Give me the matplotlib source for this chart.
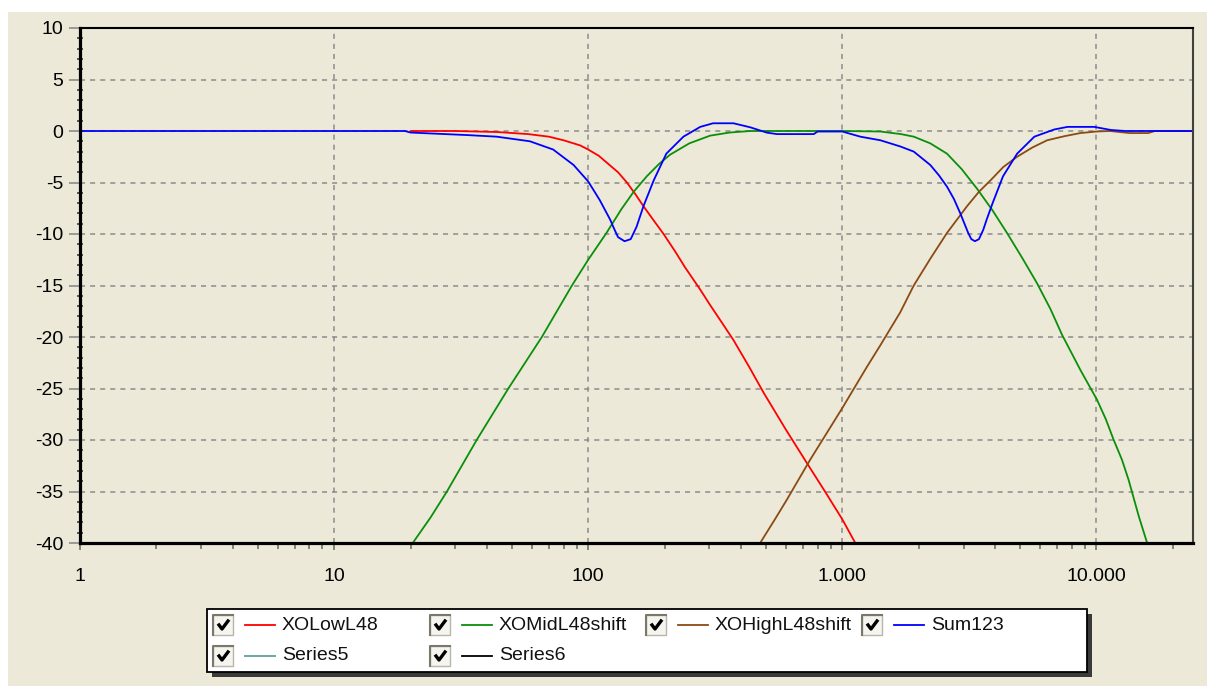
import matplotlib
matplotlib.use("Agg")
import matplotlib.pyplot as plt
from matplotlib.patches import Rectangle
from matplotlib.lines import Line2D
from matplotlib.ticker import FixedLocator, FuncFormatter, LogLocator, MultipleLocator

plt.rcParams['font.family'] = ['Liberation Sans', 'DejaVu Sans']
plt.rcParams['axes.unicode_minus'] = False

# --- data (frequency in Hz, level in dB) ---
low_f = [20, 30, 44, 58, 70, 80, 93, 100, 110, 120, 131, 142, 153, 165, 180, 198,
         220, 240, 276, 302, 340, 373, 430, 490, 600, 737, 860, 1000, 1125]
low_db = [0, 0, -0.1, -0.3, -0.55, -0.9, -1.4, -1.8, -2.4, -3.2, -4.0, -5.0, -6.1,
          -7.3, -8.6, -10.0, -11.7, -13.2, -15.4, -16.9, -18.8, -20.3, -22.9, -25.4,
          -29.0, -32.5, -35.1, -37.7, -40]

mid_f = [20, 24, 27.8, 36.4, 48.5, 65.7, 86.3, 100, 118, 135, 151, 170, 190, 210,
         250, 302, 360, 434, 600, 1000, 1412, 1700, 1911, 2220, 2582, 2950, 3390,
         3900, 4449, 5100, 5845, 6600, 7330, 8650, 10060, 10900, 11700, 12600, 13400,
         14680, 15840]
mid_db = [-40.3, -37.5, -35.0, -30.0, -25.0, -20.0, -15.0, -12.5, -9.9, -7.6, -5.9,
          -4.4, -3.2, -2.3, -1.2, -0.45, -0.15, 0, 0, 0, -0.05, -0.3, -0.55, -1.2,
          -2.2, -3.7, -5.6, -7.7, -9.9, -12.3, -14.8, -17.3, -19.8, -23.2, -26.1,
          -28.0, -30.0, -31.9, -33.9, -37.4, -40]

high_f = [475, 540, 605, 748, 870, 1000, 1250, 1412, 1691, 1911, 2220, 2582, 3097,
          3450, 3828, 4300, 4876, 5600, 6400, 7500, 8650, 10000, 11300, 13500, 16000,
          17000, 24000]
high_db = [-40, -37.8, -35.8, -31.9, -29.3, -26.9, -22.9, -20.8, -17.6, -15.0, -12.4,
           -9.9, -7.3, -5.9, -4.8, -3.5, -2.5, -1.6, -0.9, -0.5, -0.2, -0.05, 0, -0.2,
           -0.2, 0, 0]

sum_f = [1, 19, 20, 33.7, 43.6, 59, 72.8, 87.6, 100, 111, 122, 126, 131, 139, 147,
         155, 165, 181, 203, 237, 276, 310, 373, 434, 505, 553, 772, 800, 1000, 1178,
         1412, 1691, 1911, 2220, 2400, 2582, 2750, 2914, 3130, 3220, 3327, 3450, 3586,
         3700, 3905, 4290, 4876, 5700, 6830, 7700, 9800, 11400, 13000, 24000]
sum_db = [0, 0, -0.15, -0.4, -0.55, -1.0, -1.8, -3.3, -4.9, -6.7, -8.6, -9.4, -10.3,
          -10.7, -10.5, -9.3, -7.3, -4.8, -2.2, -0.55, 0.4, 0.75, 0.75, 0.36, -0.16,
          -0.3, -0.3, -0.05, -0.05, -0.55, -0.9, -1.5, -2.0, -3.3, -4.3, -5.4, -6.6,
          -8.0, -9.9, -10.5, -10.7, -10.5, -9.6, -8.6, -7.0, -4.4, -2.2, -0.55, 0.15,
          0.4, 0.4, 0.1, 0, 0]

series_names = ['XOLowL48', 'XOMidL48shift', 'XOHighL48shift', 'Sum123', 'Series5', 'Series6']
series_colors = ['#ff0000', '#0a8f0a', '#8b4a14', '#0000ff', '#5f9ea0', '#000000']

x_major = [1, 10, 100, 1000, 10000]
y_major = list(range(-40, 11, 5))

BG = '#ece9d8'
W, H = 1207, 686


def px(x, y):
    # pixel position -> figure fraction
    return x / W, 1 - y / H


fig = plt.figure(figsize=(W / 100, H / 100), dpi=100)
fig.patch.set_facecolor('white')
fig.add_artist(Rectangle(px(8, 686), (W - 8) / W, 674 / H, transform=fig.transFigure,
                         facecolor=BG, edgecolor='none', zorder=0))

ax = fig.add_axes([80 / W, 1 - 543 / H, (1193 - 80) / W, (543 - 28) / H])
ax.set_facecolor(BG)

curves = [(low_f, low_db), (mid_f, mid_db), (high_f, high_db), (sum_f, sum_db)]
for (f, db), c in zip(curves, series_colors):
    ax.plot(f, db, color=c, lw=1.3, solid_joinstyle='round')

ax.set_xscale('log')
ax.set_xlim(1, 24000)
ax.set_ylim(-40, 10)

ax.xaxis.set_major_locator(FixedLocator(x_major))
ax.xaxis.set_minor_locator(LogLocator(base=10, subs=range(2, 10), numticks=20))
ax.xaxis.set_major_formatter(FuncFormatter(lambda v, p: f"{int(round(v)):,}".replace(",", ".")))
ax.xaxis.set_minor_formatter(FuncFormatter(lambda v, p: ""))
ax.yaxis.set_major_locator(FixedLocator(y_major))
ax.yaxis.set_minor_locator(MultipleLocator(1))

ax.grid(True, which='major', color='#8c8c8c', lw=1.1, linestyle=(0, (3.3, 3.3)))

ax.tick_params(axis='x', which='major', direction='out', length=5, width=1.2,
               color='#707070', labelsize=14, pad=13)
ax.tick_params(axis='x', which='minor', direction='out', length=4, width=1.2, color='#707070')
ax.tick_params(axis='y', which='major', direction='out', length=8, width=1.2,
               color='#8c8c8c', labelsize=14, pad=4)
ax.tick_params(axis='y', which='minor', direction='inout', length=5, width=1.2, color='#404040')

for side, lw, col in [('left', 2.3, 'black'), ('bottom', 2.3, 'black'),
                      ('top', 1.5, 'black'), ('right', 1.5, '#404040')]:
    ax.spines[side].set_linewidth(lw)
    ax.spines[side].set_color(col)

# --- legend box with checkboxes (WinForms style) ---
bx0, by0, bx1, by1 = 207, 609, 1087, 672
fig.add_artist(Rectangle(px(bx0 + 5, by1 + 5), (bx1 - bx0) / W, (by1 - by0) / H,
                         transform=fig.transFigure, facecolor='#3a3a3a',
                         edgecolor='none', zorder=5))
fig.add_artist(Rectangle(px(bx0, by1), (bx1 - bx0) / W, (by1 - by0) / H,
                         transform=fig.transFigure, facecolor='white',
                         edgecolor='black', lw=1.3, zorder=6))

col_x = [213, 430, 646, 862]
row_y = [625, 656]
for i, (name, color) in enumerate(zip(series_names, series_colors)):
    cx = col_x[i % 4]
    cy = row_y[i // 4]
    # checkbox
    fig.add_artist(Rectangle(px(cx, cy + 10), 20 / W, 20 / H, transform=fig.transFigure,
                             facecolor='#f5f4ef', edgecolor='#b8b6a8', lw=1.0, zorder=7))
    fig.add_artist(Line2D([px(cx, cy + 10)[0], px(cx, cy - 10)[0], px(cx + 20, cy - 10)[0]],
                          [px(cx, cy + 10)[1], px(cx, cy - 10)[1], px(cx + 20, cy - 10)[1]],
                          transform=fig.transFigure, color='#7a786c', lw=1.5, zorder=8))
    ck = [px(cx + 6, cy), px(cx + 9, cy + 4), px(cx + 15, cy - 4)]
    fig.add_artist(Line2D([p[0] for p in ck], [p[1] for p in ck], transform=fig.transFigure,
                          color='black', lw=2.4, zorder=8))
    # line sample
    a, b = px(cx + 32, cy), px(cx + 62, cy)
    fig.add_artist(Line2D([a[0], b[0]], [a[1], b[1]], transform=fig.transFigure,
                          color=color, lw=1.3, zorder=8))
    tx, ty = px(cx + 69, cy)
    fig.text(tx, ty, name, fontsize=14, ha='left', va='center', color='#111111', zorder=8)

fig.savefig('out.png', dpi=100, facecolor=fig.get_facecolor())
